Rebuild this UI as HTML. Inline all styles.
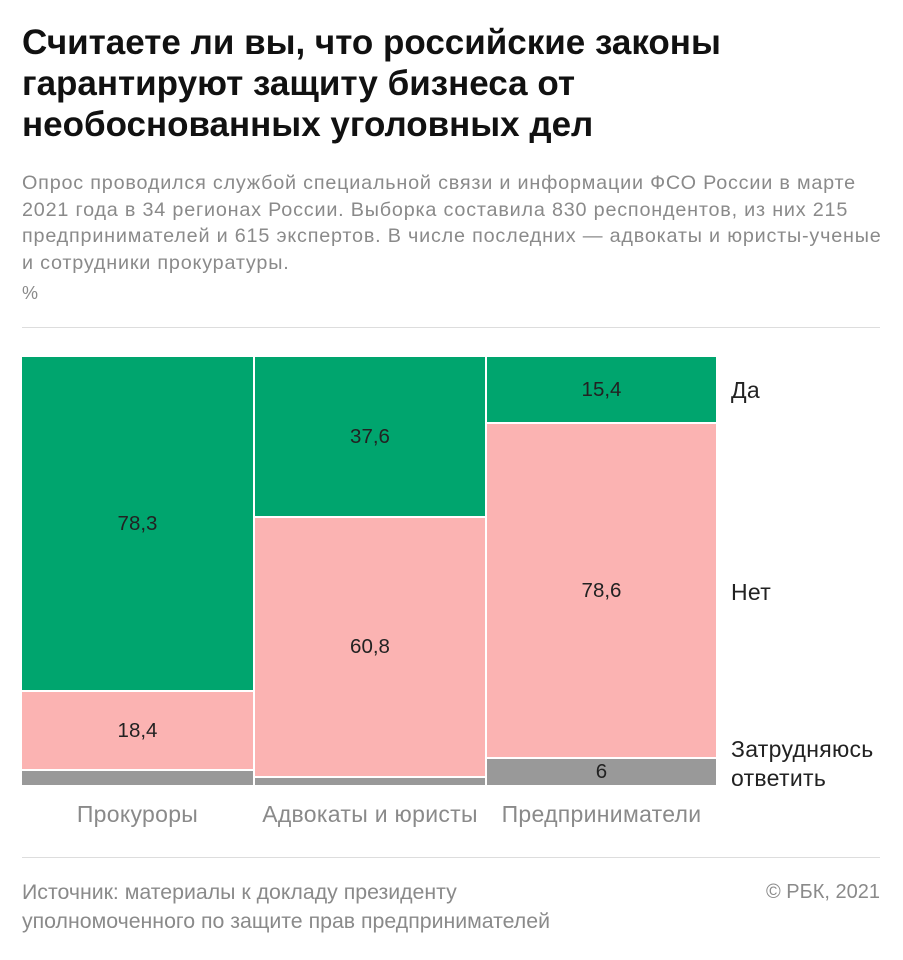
<!DOCTYPE html>
<html><head><meta charset="utf-8"><style>
body{margin:0;background:#fff;width:903px;height:960px;overflow:hidden;font-family:"Liberation Sans","Noto Sans CJK SC",sans-serif;position:relative}
.a{position:absolute;white-space:nowrap}
h1{position:absolute;left:22px;top:22px;margin:0;font-size:35px;line-height:41px;font-weight:bold;color:#111;letter-spacing:0px;white-space:nowrap}
.sub{left:22px;top:170px;font-size:19.8px;line-height:26.5px;color:#8a8a8a;letter-spacing:0.8px}
.hr{left:22px;width:858px;height:1px;background:#ddd}
.seg{position:absolute;display:flex;align-items:center;justify-content:center;font-size:20.5px;color:#222;box-sizing:border-box}
.g{background:#00a56e}.p{background:#fbb3b2}.y{background:#999}
.lab{font-size:23px;color:#222;letter-spacing:0.3px}
.cat{top:801px;font-size:23px;color:#8a8a8a;text-align:center;letter-spacing:0.3px}
</style></head><body>
<h1>Считаете ли вы, что российские законы<br>гарантируют защиту бизнеса от<br>необоснованных уголовных дел</h1>
<div class="a sub">Опрос проводился службой специальной связи и информации ФСО России в марте<br>2021 года в 34 регионах России. Выборка составила 830 респондентов, из них 215<br>предпринимателей и 615 экспертов. В числе последних — адвокаты и юристы-ученые<br>и сотрудники прокуратуры.</div>
<div class="a" style="left:22px;top:283px;font-size:18px;color:#8a8a8a">%</div>
<div class="a hr" style="top:327px"></div>

<div class="seg g" style="left:22px;top:357px;width:231px;height:333px">78,3</div>
<div class="seg p" style="left:22px;top:692px;width:231px;height:77px">18,4</div>
<div class="seg y" style="left:22px;top:771px;width:231px;height:14px"></div>

<div class="seg g" style="left:255px;top:357px;width:230px;height:159px">37,6</div>
<div class="seg p" style="left:255px;top:518px;width:230px;height:258px">60,8</div>
<div class="seg y" style="left:255px;top:778px;width:230px;height:7px"></div>

<div class="seg g" style="left:487px;top:357px;width:229px;height:65px">15,4</div>
<div class="seg p" style="left:487px;top:424px;width:229px;height:333px">78,6</div>
<div class="seg y" style="left:487px;top:759px;width:229px;height:26px">6</div>

<div class="a lab" style="left:731px;top:377px">Да</div>
<div class="a lab" style="left:731px;top:579px">Нет</div>
<div class="a lab" style="left:731px;top:735px;line-height:29px">Затрудняюсь<br>ответить</div>

<div class="a cat" style="left:22px;width:231px">Прокуроры</div>
<div class="a cat" style="left:255px;width:230px">Адвокаты и юристы</div>
<div class="a cat" style="left:487px;width:229px">Предприниматели</div>

<div class="a hr" style="top:857px"></div>
<div class="a" style="left:22px;top:878px;font-size:21.3px;line-height:29px;color:#8a8a8a">Источник: материалы к докладу президенту<br>уполномоченного по защите прав предпринимателей</div>
<div class="a" style="right:23px;top:878px;font-size:20px;line-height:29px;color:#8a8a8a">© РБК, 2021</div>
</body></html>
